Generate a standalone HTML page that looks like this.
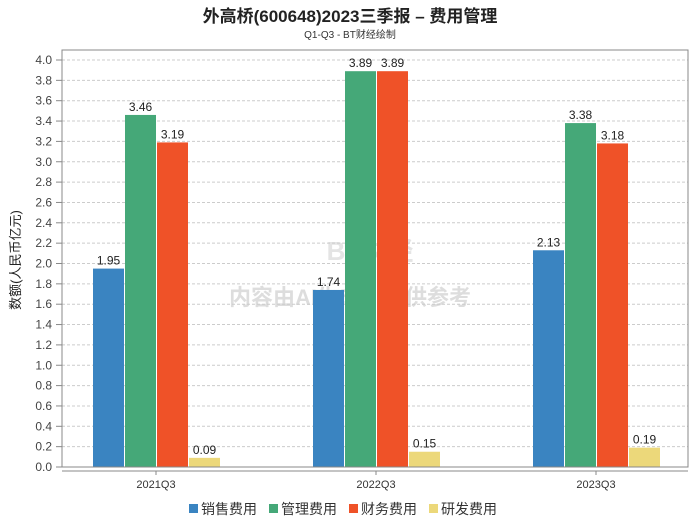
<!DOCTYPE html>
<html><head><meta charset="utf-8"><style>
body{margin:0;background:#fff;font-family:"Liberation Sans","Noto Sans CJK SC",sans-serif;}
</style></head><body>
<svg id="c" width="700" height="524" xmlns="http://www.w3.org/2000/svg" style="font-family:'Liberation Sans','Noto Sans CJK SC',sans-serif">
<text x="350" y="22" text-anchor="middle" font-size="17" font-weight="bold" fill="#222">外高桥(600648)2023三季报 – 费用管理</text>
<text x="350" y="38" text-anchor="middle" font-size="10" fill="#333">Q1-Q3 - BT财经绘制</text>
<text x="20" y="260" text-anchor="middle" font-size="13" fill="#222" transform="rotate(-90 20 260)">数额(人民币亿元)</text>
<text x="350" y="305" text-anchor="middle" font-size="22" fill="#ddd" font-weight="bold">内容由AI生成，仅供参考</text>
<text x="370" y="260" text-anchor="middle" font-size="26" fill="#e4e4e4" font-weight="bold">BT财经</text>
<g id="grid"></g><g id="bars"></g>
<rect x="62" y="50" width="626" height="417" fill="none" stroke="#888"/>
<line x1="62" y1="471" x2="688" y2="471" stroke="#888"/>
<g id="legend"></g>
</svg>
<script>
const categories=["2021Q3","2022Q3","2023Q3"];
const seriesNames=["销售费用","管理费用","财务费用","研发费用"];
const sales=[1.95,1.74,2.13];
const admin=[3.46,3.89,3.38];
const finance=[3.19,3.89,3.18];
const rnd=[0.09,0.15,0.19];
const yTicks=[0,0.2,0.4,0.6,0.8,1.0,1.2,1.4,1.6,1.8,2.0,2.2,2.4,2.6,2.8,3.0,3.2,3.4,3.6,3.8,4.0];
const colors=["#3a84c1","#45a878","#ef5228","#ecd87a"];
const NS="http://www.w3.org/2000/svg";
const y=v=>467-v*101.75;
const x=i=>156+i*220;
function mk(t,a,p){const e=document.createElementNS(NS,t);for(const k in a)e.setAttribute(k,a[k]);p.appendChild(e);return e;}
const grid=document.getElementById('grid'),bars=document.getElementById('bars'),lg=document.getElementById('legend');
yTicks.forEach(v=>{
 const l=mk('line',{x1:62,x2:688,y1:y(v),y2:y(v),stroke:'#ccc','stroke-dasharray':'3,2'},grid);
 
 
 const t=mk('text',{x:52,y:y(v)+4,'text-anchor':'end','font-size':12,fill:'#444'},grid);t.textContent=v.toFixed(1);
 
 
 mk('line',{x1:56,x2:62,y1:y(v),y2:y(v),stroke:'#888'},grid);
});
const all=[sales,admin,finance,rnd];
categories.forEach((c,i)=>{
 const t=mk('text',{x:x(i),y:488,'text-anchor':'middle','font-size':11,fill:'#333'},grid);t.textContent=c;
 
 
 mk('line',{x1:x(i),x2:x(i),y1:471,y2:475,stroke:'#888'},grid);
 all.forEach((s,j)=>{
  const bx=x(i)-63+j*32;
  const r=mk('rect',{x:bx,y:y(s[i]),width:31,height:467-y(s[i]),fill:colors[j]},bars);
  
  
  const lt=mk('text',{x:bx+15.5,y:y(s[i])-4,'text-anchor':'middle','font-size':12,fill:'#222'},bars);lt.textContent=s[i].toFixed(2);
  
  
 });
});
seriesNames.forEach((n,j)=>{
 const lx=189+j*80;
 const r=mk('rect',{x:lx,y:504,width:9,height:9,fill:colors[j]},lg);
 
 
 const t=mk('text',{x:lx+12,y:514,'font-size':14,fill:'#333'},lg);t.textContent=n;
 
 
});
</script>
</body></html>
